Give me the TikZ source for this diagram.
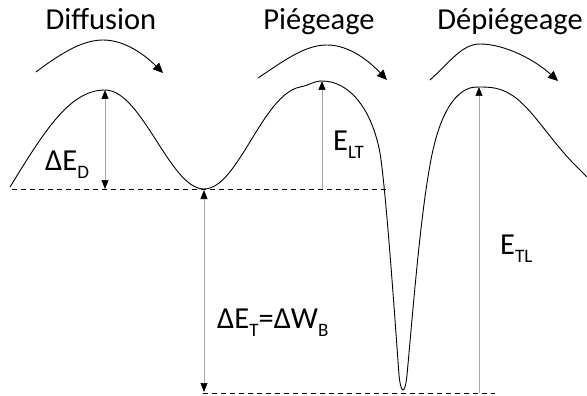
\documentclass[tikz,border=0pt]{standalone}
\usepackage{fontspec}
\setmainfont{Carlito}
\usetikzlibrary{arrows.meta}
\newcommand\lsub[1]{\raisebox{-0.28em}{\fontsize{19}{19}\selectfont #1}}
\begin{document}
\begin{tikzpicture}[x=1pt,y=-1pt,
  lbl/.style={inner sep=0pt,font=\fontsize{30.5}{32}\selectfont},
  curve/.style={draw=black,line width=0.9pt},
  meas/.style={draw=gray!70,line width=0.6pt},
  mtip/.style={-{Triangle[length=9pt,width=7pt,color=black]}},
  mboth/.style={{Triangle[length=9pt,width=7pt,color=black]}-{Triangle[length=9pt,width=7pt,color=black]}},
  jump/.style={draw=black,line width=0.9pt,-{Triangle[length=10pt,width=9pt]}},
  dashline/.style={draw=black,line width=0.6pt,dash pattern=on 5pt off 4pt}]
\useasboundingbox (0,0) rectangle (587,396);
% titles
\node[lbl,anchor=base] (tdiff) at (101,30) {Diffusion};
\node[lbl,anchor=base] (tpieg) at (319,30) {Piégeage};
\node[lbl,anchor=base] (tdep) at (510,30) {Dépiégeage};
% jump arrows
\coordinate (a1s) at (36,72); \coordinate (a1e) at (163,73);
\coordinate (a2s) at (258,78); \coordinate (a2e) at (387,80);
\coordinate (a3s) at (430,80); \coordinate (a3e) at (558,81);
\draw[jump] (a1s) .. controls (65,50) and (85,40) .. (103,40) .. controls (125,40) and (145,55) .. (a1e);
\draw[jump] (a2s) .. controls (285,60) and (305,45) .. (327,45) .. controls (350,45) and (370,62) .. (a2e);
\draw[jump] (a3s) .. controls (450,62) and (462,44) .. (480,44) .. controls (505,44) and (535,60) .. (a3e);
% energy landscape
\draw[curve] (10,187) .. controls (45,130) and (70,90) .. (105,90)
  .. controls (142,90) and (170,189) .. (204,189)
  .. controls (238,189) and (262,95) .. (300,87)
  .. controls (310,85) and (314,81) .. (322,81)
  .. controls (350,81) and (372,110) .. (380,153)
  .. controls (386,190) and (395,320) .. (399,375)
  .. controls (401,395) and (405,395) .. (407,375)
  .. controls (413,310) and (420,220) .. (430,165)
  .. controls (436,130) and (448,95) .. (470,88)
  .. controls (474,87) and (477,87) .. (479,87)
  .. controls (492,87) and (500,88) .. (510,94)
  .. controls (530,105) and (550,140) .. (575,165)
  .. controls (580,170) and (584,174) .. (587,177);
% key points
\coordinate (p1) at (105,90); \coordinate (p1b) at (105,189);
\coordinate (v1) at (204,190); \coordinate (v1b) at (204,392);
\coordinate (p2) at (322,81); \coordinate (p2b) at (322,189);
\coordinate (p3) at (479,87); \coordinate (p3b) at (479,393);
% dashed levels
\coordinate (dl1) at (12,189); \coordinate (dl2) at (387,189);
\coordinate (dm1) at (203,393); \coordinate (dm2) at (495,393);
\draw[dashline] (dl1) -- (dl2);
\draw[dashline] (dm1) -- (dm2);
% measurements
\draw[meas,mboth] (p1b) -- (p1);
\draw[meas,mtip] (p2b) -- (p2);
\draw[meas,mboth] (v1b) -- (v1);
\draw[meas,mtip] (p3b) -- (p3);
% labels
\node[lbl,anchor=base west] (led) at (45,170) {ΔE\lsub{D}};
\node[lbl,anchor=base west] (llt) at (333,150) {E\lsub{LT}};
\node[lbl,anchor=base west] (ltl) at (500,254) {E\lsub{TL}};
\node[lbl,anchor=base west] (let) at (217,328) {ΔE\lsub{T}=ΔW\lsub{B}};
\end{tikzpicture}
\end{document}
